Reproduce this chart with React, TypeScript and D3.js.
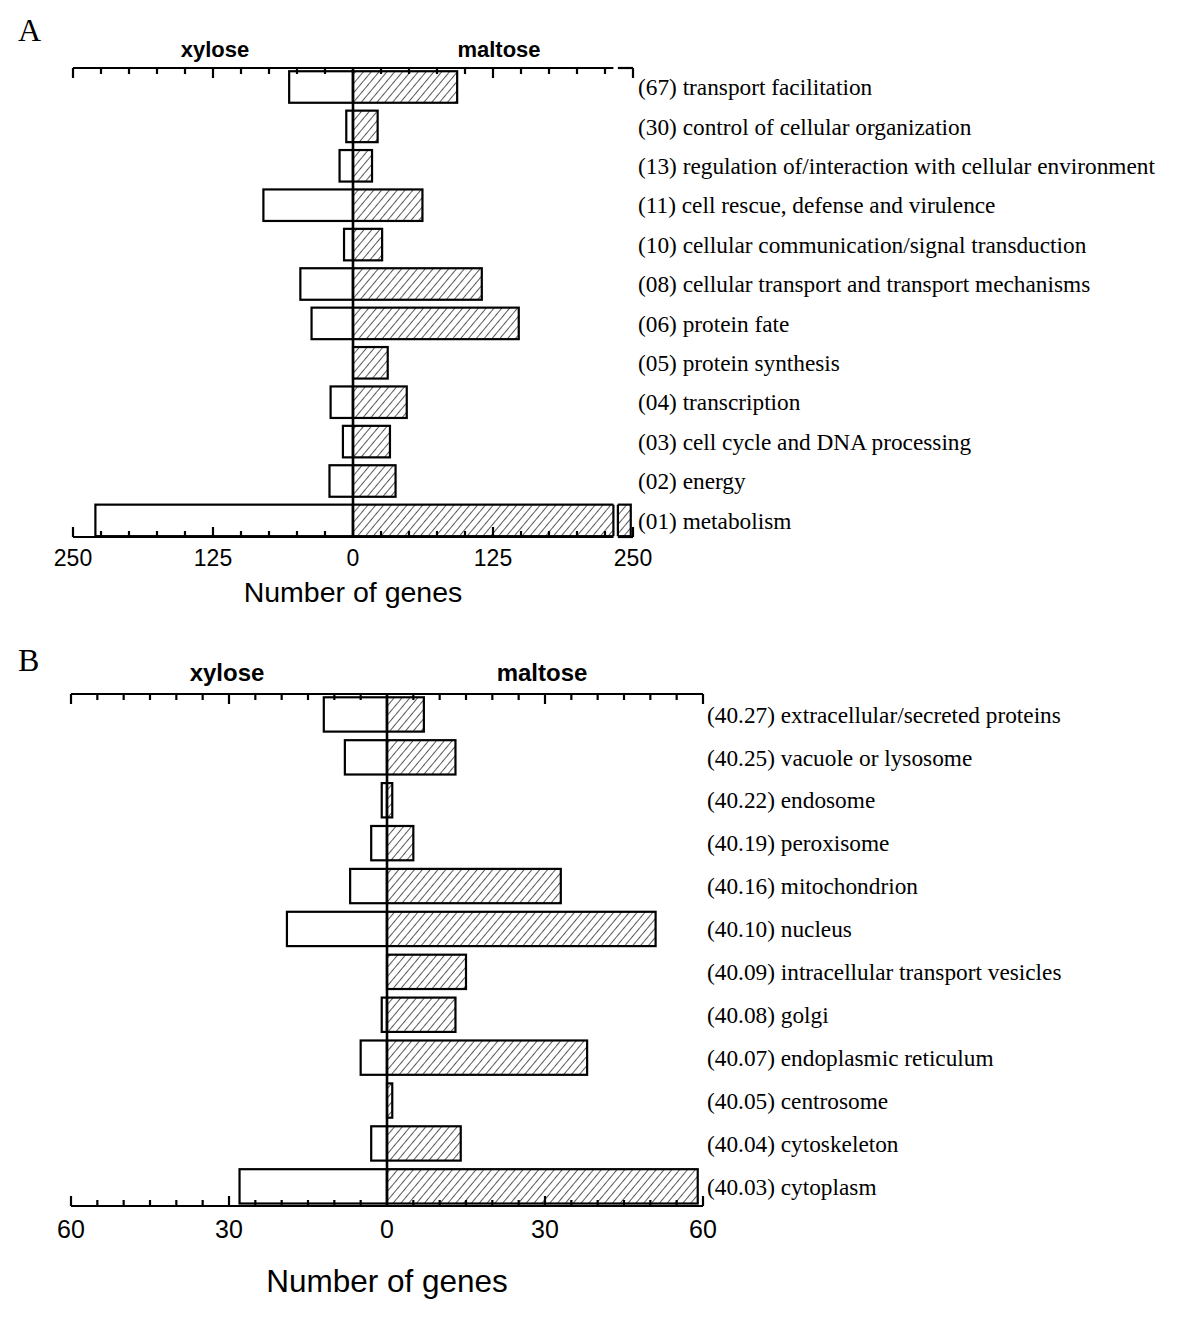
import React from "react";
import * as d3 from "d3";

// ---------- Data ----------
const categoriesA = [
  "(67) transport facilitation",
  "(30) control of cellular organization",
  "(13) regulation of/interaction with cellular environment",
  "(11) cell rescue, defense and virulence",
  "(10) cellular communication/signal transduction",
  "(08) cellular transport and transport mechanisms",
  "(06) protein fate",
  "(05) protein synthesis",
  "(04) transcription",
  "(03) cell cycle and DNA processing",
  "(02) energy",
  "(01) metabolism",
];
const xyloseA = [57, 6, 12, 80, 8, 47, 37, 0, 20, 9, 21, 230];
const maltoseA = [93, 22, 17, 62, 26, 115, 148, 31, 48, 33, 38, 248];
const tickValuesA = [-250, -125, 0, 125, 250];
const tickLabelsA = ["250", "125", "0", "125", "250"];

const categoriesB = [
  "(40.27) extracellular/secreted proteins",
  "(40.25) vacuole or lysosome",
  "(40.22) endosome",
  "(40.19) peroxisome",
  "(40.16) mitochondrion",
  "(40.10) nucleus",
  "(40.09) intracellular transport vesicles",
  "(40.08) golgi",
  "(40.07) endoplasmic reticulum",
  "(40.05) centrosome",
  "(40.04) cytoskeleton",
  "(40.03) cytoplasm",
];
const xyloseB = [12, 8, 1, 3, 7, 19, 0, 1, 5, 0, 3, 28];
const maltoseB = [7, 13, 1, 5, 33, 51, 15, 13, 38, 1, 14, 59];
const tickValuesB = [-60, -30, 0, 30, 60];
const tickLabelsB = ["60", "30", "0", "30", "60"];

const SANS = "'Liberation Sans', Arial, Helvetica, sans-serif";
const SERIF = "'Liberation Serif', 'Times New Roman', serif";

type PanelProps = {
  letter: string;
  letterY: number;
  categories: string[];
  xylose: number[];
  maltose: number[];
  tickValues: number[];
  tickLabels: string[];
  max: number;
  minorStep: number;
  xRange: [number, number];
  bandRange: [number, number];
  axisTop: number;
  axisBottom: number;
  titleY: number;
  titleSize: number;
  titleXy: number;
  titleMa: number;
  tickLabelY: number;
  tickLabelSize: number;
  xTitleY: number;
  xTitleSize: number;
  labelX: number;
  breakRange?: [number, number];
};

function Panel(p: PanelProps) {
  const x = d3.scaleLinear().domain([-p.max, p.max]).range(p.xRange);
  const y = d3
    .scaleBand<string>()
    .domain(p.categories)
    .range(p.bandRange)
    .paddingInner(0.2)
    .paddingOuter(0.1);
  const bw = y.bandwidth();
  const x0 = x(0);
  const minorTicks = d3.range(-p.max, p.max + 0.001, p.minorStep);
  const isMajor = (v: number) => p.tickValues.some((t) => Math.abs(t - v) < 1e-6);
  const sw = 2.2;

  const brk = p.breakRange;
  const bx0 = brk ? x(brk[0]) : 0;
  const bx1 = brk ? x(brk[1]) : 0;

  const axisLine = (yy: number) => {
    if (!brk) return <line x1={x(-p.max)} x2={x(p.max)} y1={yy} y2={yy} stroke="#000" strokeWidth={sw} />;
    return (
      <g>
        <line x1={x(-p.max)} x2={bx0} y1={yy} y2={yy} stroke="#000" strokeWidth={sw} />
        <line x1={bx1} x2={x(p.max)} y1={yy} y2={yy} stroke="#000" strokeWidth={sw} />
      </g>
    );
  };

  return (
    <g>
      <text x={18} y={p.letterY} fontFamily={SERIF} fontSize={32}>
        {p.letter}
      </text>
      <text x={p.titleXy} y={p.titleY} textAnchor="middle" fontFamily={SANS} fontWeight="bold" fontSize={p.titleSize}>
        xylose
      </text>
      <text x={p.titleMa} y={p.titleY} textAnchor="middle" fontFamily={SANS} fontWeight="bold" fontSize={p.titleSize}>
        maltose
      </text>

      {/* bars */}
      {p.categories.map((c, i) => {
        const yy = y(c)!;
        const xv = p.xylose[i];
        const mv = p.maltose[i];
        const broken = brk && mv > brk[1];
        return (
          <g key={c}>
            {xv > 0 && (
              <rect x={x(-xv)} y={yy} width={x0 - x(-xv)} height={bw} fill="#fff" stroke="#000" strokeWidth={sw} />
            )}
            {mv > 0 && (
              <rect x={x0} y={yy} width={x(mv) - x0} height={bw} fill="url(#hatch)" stroke="#000" strokeWidth={sw} />
            )}
            {broken && (
              <g>
                <rect x={bx0} y={yy - 2} width={bx1 - bx0} height={bw + 4} fill="#fff" />
                <line x1={bx0} x2={bx0} y1={yy} y2={yy + bw} stroke="#000" strokeWidth={sw} />
                <line x1={bx1} x2={bx1} y1={yy} y2={yy + bw} stroke="#000" strokeWidth={sw} />
              </g>
            )}
            <text x={p.labelX} y={yy + bw / 2} dy="0.35em" fontFamily={SERIF} fontSize={23.3}>
              {c}
            </text>
          </g>
        );
      })}

      {/* top axis */}
      {axisLine(p.axisTop)}
      {minorTicks.map((v) => {
        if (Math.abs(v) < 1e-6) return null;
        const len = isMajor(v) ? 10 : 6;
        return <line key={"t" + v} x1={x(v)} x2={x(v)} y1={p.axisTop} y2={p.axisTop + len} stroke="#000" strokeWidth={sw} />;
      })}
      {/* bottom axis */}
      {axisLine(p.axisBottom)}
      {minorTicks.map((v) => {
        if (Math.abs(v) < 1e-6) return null;
        const len = isMajor(v) ? 10 : 6;
        return <line key={"b" + v} x1={x(v)} x2={x(v)} y1={p.axisBottom} y2={p.axisBottom - len} stroke="#000" strokeWidth={sw} />;
      })}
      {/* center line */}
      <line x1={x0} x2={x0} y1={p.axisTop} y2={p.axisBottom} stroke="#000" strokeWidth={2.6} />

      {p.tickValues.map((v, i) => (
        <text key={"l" + v} x={x(v)} y={p.tickLabelY} textAnchor="middle" fontFamily={SANS} fontSize={p.tickLabelSize}>
          {p.tickLabels[i]}
        </text>
      ))}
      <text x={x0} y={p.xTitleY} textAnchor="middle" fontFamily={SANS} fontSize={p.xTitleSize}>
        Number of genes
      </text>
    </g>
  );
}

export default function App() {
  return (
    <svg width={1200} height={1326} style={{ display: "block", position: "absolute", left: 0, top: 0, background: "#fff" }}>
      <defs>
        <pattern id="hatch" patternUnits="userSpaceOnUse" width={6} height={10} patternTransform="rotate(40)">
          <rect width={6} height={10} fill="#fff" />
          <line x1={0} y1={0} x2={0} y2={10} stroke="#000" strokeWidth={1.3} />
        </pattern>
      </defs>
      <rect width={1200} height={1326} fill="#fff" />
      <Panel
        letter="A"
        letterY={41}
        categories={categoriesA}
        xylose={xyloseA}
        maltose={maltoseA}
        tickValues={tickValuesA}
        tickLabels={tickLabelsA}
        max={250}
        minorStep={25}
        xRange={[73, 633]}
        bandRange={[67.3, 540.1]}
        axisTop={68}
        axisBottom={537}
        titleY={57}
        titleSize={22}
        titleXy={215}
        titleMa={499}
        tickLabelY={566}
        tickLabelSize={23}
        xTitleY={602}
        xTitleSize={28.5}
        labelX={638}
        breakRange={[232.5, 236.5]}
      />
      <Panel
        letter="B"
        letterY={671}
        categories={categoriesB}
        xylose={xyloseB}
        maltose={maltoseB}
        tickValues={tickValuesB}
        tickLabels={tickLabelsB}
        max={60}
        minorStep={5}
        xRange={[71, 703]}
        bandRange={[693, 1207.8]}
        axisTop={694}
        axisBottom={1206}
        titleY={681}
        titleSize={24}
        titleXy={227}
        titleMa={542}
        tickLabelY={1238}
        tickLabelSize={25}
        xTitleY={1292}
        xTitleSize={31.5}
        labelX={707}
      />
    </svg>
  );
}
